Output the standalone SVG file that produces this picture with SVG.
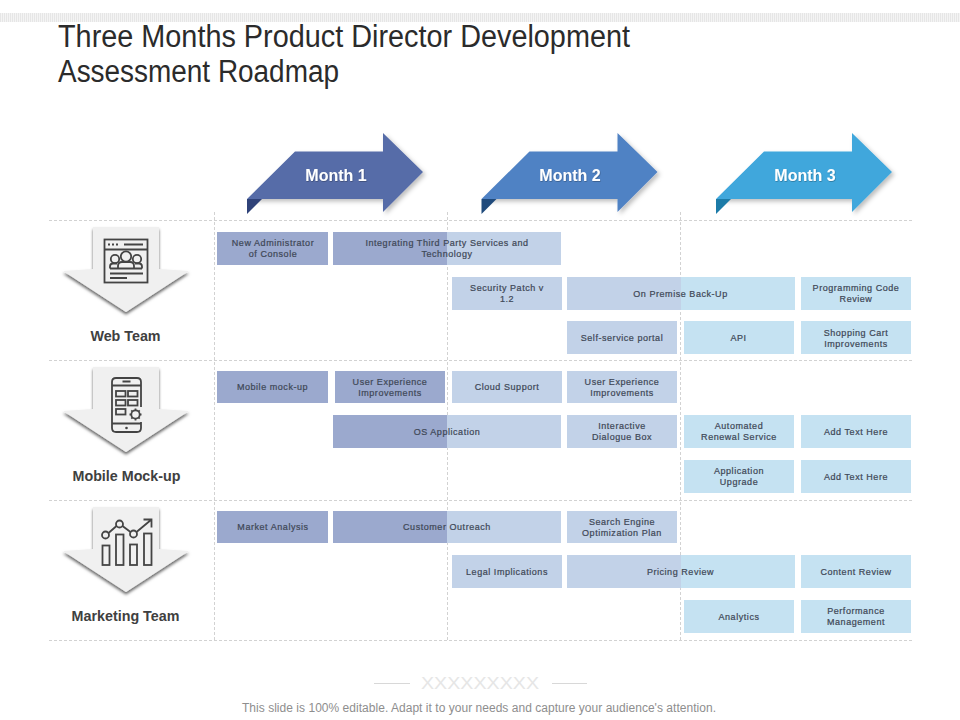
<svg xmlns="http://www.w3.org/2000/svg" width="960" height="720" viewBox="0 0 960 720">
<style>
text{font-family:"Liberation Sans",Arial,sans-serif}
.title{font-size:31px;fill:#2b2b2b}
.bar{fill:url(#bands)}
.bt{font-size:9px;fill:#3f4857;stroke:#3f4857;stroke-width:.22;text-anchor:middle;letter-spacing:.55px}
.mo{font-size:16px;font-weight:bold;fill:#fff;text-anchor:middle;filter:url(#ts)}
.lab{font-size:14.300px;font-weight:bold;fill:#404040;text-anchor:middle}
.grid{stroke:#d2d2d2;stroke-width:1;stroke-dasharray:3 2;fill:none}
.ic{fill:none;stroke:#444;stroke-width:1.800}
.da{fill:#f0f0f0;filter:url(#ds2)}
</style>
<defs>
<linearGradient id="bands" gradientUnits="userSpaceOnUse" x1="0" y1="0" x2="960" y2="0">
<stop offset="0.4656" stop-color="#9ba9ce"/><stop offset="0.4656" stop-color="#c2d2e8"/>
<stop offset="0.7094" stop-color="#c2d2e8"/><stop offset="0.7094" stop-color="#c5e2f2"/>
</linearGradient>
<pattern id="hatch" width="2" height="2" patternUnits="userSpaceOnUse"><rect width="2" height="2" fill="#f4f4f4"/><rect width="1" height="2" fill="#e6e6e6"/></pattern>
<filter id="ds" x="-20%" y="-20%" width="140%" height="150%"><feDropShadow dx="2.500" dy="2.500" stdDeviation="2" flood-color="#000" flood-opacity=".25"/></filter>
<filter id="ds2" x="-20%" y="-20%" width="140%" height="140%"><feDropShadow dx="0" dy="2.500" stdDeviation="1.500" flood-color="#000" flood-opacity=".6"/></filter>
<filter id="ts" x="-20%" y="-40%" width="140%" height="180%"><feDropShadow dx=".5" dy=".8" stdDeviation=".6" flood-color="#000" flood-opacity=".3"/></filter>
<polygon id="arrow" points="247,199 295,151.500 383,151.500 383,133 423,172 383,212 383,199"/>
<polygon id="fold" points="247,199 262,199 247,214"/>
<polygon id="down" points="93,227 159,227 159,269 189,271 126,312 63,271 93,269"/>
</defs>
<rect width="960" height="720" fill="#fff"/>
<rect x="0" y="13" width="960" height="9" fill="url(#hatch)"/>
<g id="title">
<text class="title" x="58" y="47" textLength="572" lengthAdjust="spacingAndGlyphs">Three Months Product Director Development</text>
<text class="title" x="58" y="82" textLength="281" lengthAdjust="spacingAndGlyphs">Assessment Roadmap</text>
</g>
<g id="grid">
<path class="grid" d="M49 220.500H912M49 360.500H912M49 500.500H912M49 640.500H912M214.500 212V640M447.500 212V640M680.500 212V640"/>
</g>
<g id="month-1"><use href="#arrow" fill="#566ca8" filter="url(#ds)"/><use href="#fold" fill="#2f4279"/><text class="mo" x="336" y="181">Month 1</text></g>
<g id="month-2"><use href="#arrow" x="234.500" fill="#5082c4" filter="url(#ds)"/><use href="#fold" x="234.500" fill="#1f4a7c"/><text class="mo" x="570" y="181">Month 2</text></g>
<g id="month-3"><use href="#arrow" x="469" fill="#3fa7dc" filter="url(#ds)"/><use href="#fold" x="469" fill="#1c7ba8"/><text class="mo" x="805" y="181">Month 3</text></g>

<g id="web-team">
<use href="#down" class="da"/>
<rect class="ic" x="104.500" y="239.500" width="43" height="43"/>
<path class="ic" d="M104.500 249.500H147.500M124 244.500H143M110 273.500H143M110 278H127"/>
<path class="ic" stroke-dasharray="2 2" d="M108 244.500H120"/>
<circle class="ic" cx="115" cy="259" r="4.200"/><circle class="ic" cx="137" cy="259" r="4.200"/>
<path class="ic" d="M110 268.500V266.500Q110 263.500 113 263.500H117M142 268.500V266.500Q142 263.500 139 263.500H135M110 268.500H142"/>
<circle class="ic" cx="126" cy="256.500" r="5.200"/>
<path class="ic" d="M118 268.500V266Q118 262 122 262H130Q134 262 134 266V268.500"/>
<text class="lab" x="125.500" y="341">Web Team</text>
</g>
<g id="mobile-mock-up">
<use href="#down" y="140" class="da"/>
<path class="ic" d="M141 407V382Q141 378 137 378H116Q112 378 112 382V428Q112 432 116 432H137Q141 432 141 428V422M112 385.500H141M112 423.500H141M122.500 381.500H130.500"/>
<rect class="ic" x="116" y="391" width="9.500" height="5.500"/><rect class="ic" x="128" y="391" width="9.500" height="5.500"/>
<rect class="ic" x="116" y="400" width="9.500" height="5.500"/><rect class="ic" x="128" y="400" width="9.500" height="5.500"/>
<rect class="ic" x="116" y="409" width="9.500" height="5.500"/>
<circle cx="126.500" cy="428" r="1.300" fill="#444"/>
<circle class="ic" cx="135.500" cy="414.500" r="4.200"/>
<path class="ic" stroke-width="2" d="M135.500 408.500V410M135.500 419V420.500M129.500 414.500H131M140 414.500H141.500M131.300 410.300L132.300 411.300M138.700 417.700L139.700 418.700M131.300 418.700L132.300 417.700M138.700 411.300L139.700 410.300"/>
<text class="lab" x="126.500" y="481">Mobile Mock-up</text>
</g>
<g id="marketing-team">
<use href="#down" y="280" class="da"/>
<rect class="ic" x="102.500" y="545.500" width="7" height="19.500"/>
<rect class="ic" x="116" y="534.500" width="7.500" height="30.500"/>
<rect class="ic" x="130" y="544.500" width="7" height="20.500"/>
<rect class="ic" x="144" y="533.500" width="7.500" height="31.500"/>
<circle class="ic" cx="105.500" cy="535" r="3.500"/><circle class="ic" cx="119.500" cy="524" r="3.500"/><circle class="ic" cx="133.500" cy="534" r="3.500"/>
<path class="ic" d="M108.500 533L116.500 526M122.500 526L130.500 532M136.500 532L151.500 519.500M143.500 519.500H151.500V527.500"/>
<text class="lab" x="125.500" y="621">Marketing Team</text>
</g>

<g id="row-1">
<g id="n1"><rect class="bar" x="217" y="232" width="111" height="33"/><text class="bt" x="273" y="246">New Administrator</text><text class="bt" x="273" y="257">of Console</text></g>
<g id="n2"><rect class="bar" x="333" y="232" width="228" height="33"/><text class="bt" x="447" y="246">Integrating Third  Party Services and</text><text class="bt" x="447" y="257">Technology</text></g>
<g id="n3"><rect class="bar" x="452" y="277" width="110" height="33"/><text class="bt" x="507" y="291">Security Patch v</text><text class="bt" x="507" y="302">1.2</text></g>
<g id="n4"><rect class="bar" x="567" y="277" width="228" height="33"/><text class="bt" x="680.500" y="297">On Premise Back-Up</text></g>
<g id="n5"><rect class="bar" x="801" y="277" width="110" height="33"/><text class="bt" x="856" y="291">Programming Code</text><text class="bt" x="856" y="302">Review</text></g>
<g id="n6"><rect class="bar" x="567" y="321" width="110" height="33"/><text class="bt" x="622" y="341">Self-service  portal</text></g>
<g id="n7"><rect class="bar" x="684" y="321" width="110" height="33"/><text class="bt" x="738.500" y="341">API</text></g>
<g id="n8"><rect class="bar" x="801" y="321" width="110" height="33"/><text class="bt" x="856" y="336">Shopping Cart</text><text class="bt" x="856" y="347">Improvements</text></g>
</g>
<g id="row-2">
<g id="n9"><rect class="bar" x="217" y="371" width="111" height="32"/><text class="bt" x="272.500" y="390">Mobile mock-up</text></g>
<g id="n10"><rect class="bar" x="335" y="371" width="110" height="32"/><text class="bt" x="390" y="385">User Experience</text><text class="bt" x="390" y="396">Improvements</text></g>
<g id="n11"><rect class="bar" x="452" y="371" width="110" height="32"/><text class="bt" x="507" y="390">Cloud Support</text></g>
<g id="n12"><rect class="bar" x="567" y="371" width="110" height="32"/><text class="bt" x="622" y="385">User Experience</text><text class="bt" x="622" y="396">Improvements</text></g>
<g id="n13"><rect class="bar" x="333" y="415" width="228" height="33"/><text class="bt" x="447" y="435">OS Application</text></g>
<g id="n14"><rect class="bar" x="567" y="415" width="110" height="33"/><text class="bt" x="622" y="429">Interactive</text><text class="bt" x="622" y="440">Dialogue  Box</text></g>
<g id="n15"><rect class="bar" x="684" y="415" width="110" height="33"/><text class="bt" x="739" y="429">Automated</text><text class="bt" x="739" y="440">Renewal  Service</text></g>
<g id="n16"><rect class="bar" x="801" y="415" width="110" height="33"/><text class="bt" x="856" y="435">Add Text Here</text></g>
<g id="n17"><rect class="bar" x="684" y="460" width="110" height="33"/><text class="bt" x="739" y="474">Application</text><text class="bt" x="739" y="485">Upgrade</text></g>
<g id="n18"><rect class="bar" x="801" y="460" width="110" height="33"/><text class="bt" x="856" y="480">Add Text Here</text></g>
</g>
<g id="row-3">
<g id="n19"><rect class="bar" x="217" y="511" width="111" height="32"/><text class="bt" x="273" y="530">Market Analysis</text></g>
<g id="n20"><rect class="bar" x="333" y="511" width="228" height="32"/><text class="bt" x="447" y="530">Customer Outreach</text></g>
<g id="n21"><rect class="bar" x="567" y="511" width="110" height="32"/><text class="bt" x="622" y="525">Search Engine</text><text class="bt" x="622" y="536">Optimization  Plan</text></g>
<g id="n22"><rect class="bar" x="452" y="555" width="110" height="33"/><text class="bt" x="507" y="575">Legal Implications</text></g>
<g id="n23"><rect class="bar" x="567" y="555" width="228" height="33"/><text class="bt" x="680.500" y="575">Pricing Review</text></g>
<g id="n24"><rect class="bar" x="801" y="555" width="110" height="33"/><text class="bt" x="856" y="575">Content Review</text></g>
<g id="n25"><rect class="bar" x="684" y="600" width="110" height="33"/><text class="bt" x="739" y="620">Analytics</text></g>
<g id="n26"><rect class="bar" x="801" y="600" width="110" height="33"/><text class="bt" x="856" y="614">Performance</text><text class="bt" x="856" y="625">Management</text></g>
</g>
<g id="footer">
<path d="M374 683.500H410M552 683.500H587" stroke="#d8d8d8" fill="none"/>
<text x="421" y="689" font-size="16" fill="#e6e6e6" textLength="118" lengthAdjust="spacingAndGlyphs">XXXXXXXXX</text>
<text x="242" y="711.500" font-size="12" fill="#8e8e8e" textLength="474" lengthAdjust="spacing">This slide is 100% editable. Adapt it to your needs and capture your audience's attention.</text>
</g>
</svg>
